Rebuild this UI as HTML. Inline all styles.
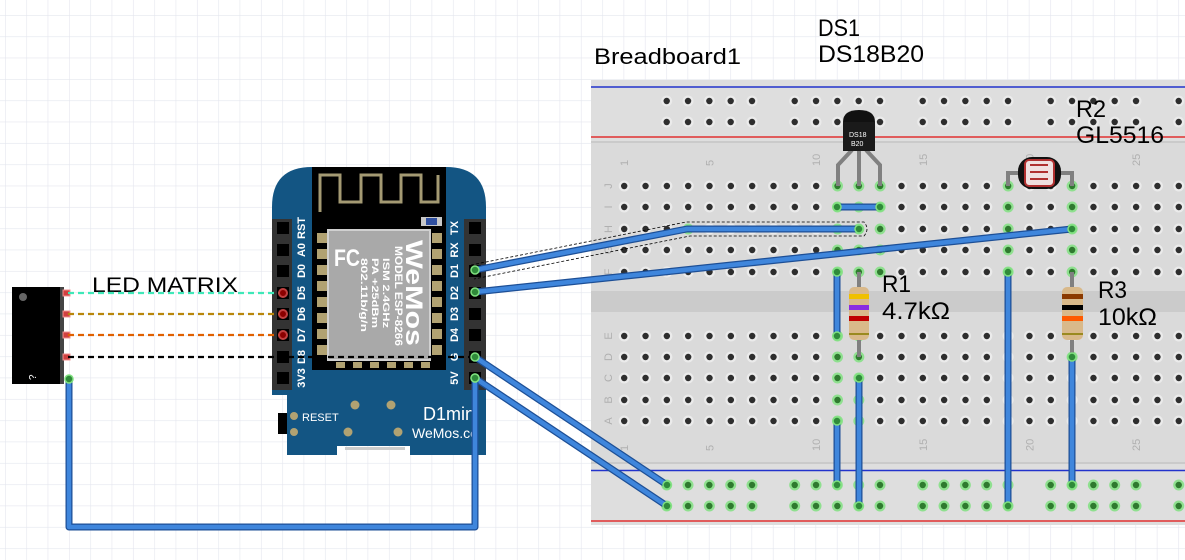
<!DOCTYPE html>
<html><head><meta charset="utf-8"><style>
html,body{margin:0;padding:0;background:#fff}
svg{display:block}
text{font-family:"Liberation Sans",sans-serif}
</style></head><body>
<svg id="s" width="1185" height="560" viewBox="0 0 1185 560" xmlns="http://www.w3.org/2000/svg">
<defs>
<pattern id="grid" x="5" y="15" width="21.33" height="21.33" patternUnits="userSpaceOnUse">
<path d="M0 0H21.33M0 0V21.33" stroke="#e4e6ee" stroke-width="1.2" fill="none"/>
</pattern>
</defs>
<rect width="1185" height="560" fill="#fff"/>
<rect width="1185" height="560" fill="url(#grid)"/>

<!-- breadboard -->
<rect x="591" y="80" width="594" height="445" fill="#dadada"/>
<rect x="591" y="80" width="594" height="62" fill="#dedede"/>
<rect x="591" y="463" width="594" height="62" fill="#dedede"/>
<line x1="591" y1="87" x2="1185" y2="87" stroke="#2233cc" stroke-width="1.5"/>
<line x1="591" y1="137" x2="1185" y2="137" stroke="#e03030" stroke-width="1.5"/>
<line x1="591" y1="142" x2="1185" y2="142" stroke="#c4c4c4" stroke-width="1.5"/>
<line x1="591" y1="463" x2="1185" y2="463" stroke="#c4c4c4" stroke-width="1.5"/>
<line x1="591" y1="470.5" x2="1185" y2="470.5" stroke="#2233cc" stroke-width="1.5"/>
<line x1="591" y1="521" x2="1185" y2="521" stroke="#e03030" stroke-width="1.5"/>
<rect x="591" y="291" width="594" height="21" fill="#cbcbcb"/>
<g id="holes"></g>
<g id="lbl" fill="#b0b0b0" font-size="11"></g>

<!-- Wemos board -->
<path d="M272 207 Q272 167 312 167 H446 Q486 167 486 207 V455 H410 V446 H337 V455 H287 V395 H272 Z" fill="#135583"/>
<rect x="312" y="167" width="134" height="203" fill="#000"/>
<path d="M320 212 V175 H340 V202 H361 V175 H381 V202 H401 V175 H421 V202 H438 V175" fill="none" stroke="#a49a73" stroke-width="3"/>
<rect x="421" y="217" width="21" height="9" fill="#c8c8c8"/><rect x="426" y="218" width="11" height="7" fill="#2f4fa0"/>
<rect x="328" y="230" width="102" height="130" fill="#a9a9a9" stroke="#d0d0d0" stroke-width="2"/>
<g fill="#fff" font-weight="bold">
<text x="334" y="266" font-size="24" textLength="26" lengthAdjust="spacingAndGlyphs">FC</text>
<text transform="translate(395,246) rotate(90)" font-size="11" textLength="100" lengthAdjust="spacingAndGlyphs">MODEL ESP-8266</text>
<text transform="translate(383,258) rotate(90)" font-size="9" textLength="70" lengthAdjust="spacingAndGlyphs">ISM 2.4GHz</text>
<text transform="translate(372,258) rotate(90)" font-size="9" textLength="70" lengthAdjust="spacingAndGlyphs">PA +25dBm</text>
<text transform="translate(361,258) rotate(90)" font-size="9" textLength="74" lengthAdjust="spacingAndGlyphs">802.11b/g/n</text>
<text transform="translate(406,240) rotate(90)" font-size="24" textLength="106" lengthAdjust="spacingAndGlyphs">WeMos</text>
</g>
<g id="pads"></g>
<rect x="272" y="219" width="20" height="171" fill="#333"/>
<rect x="464" y="219" width="22" height="171" fill="#333"/>
<g id="wpins"></g>
<g fill="#fff" font-size="11" font-weight="bold" id="wl"></g>
<rect x="278" y="413" width="9" height="21" fill="#000"/>
<circle cx="294" cy="416" r="4" fill="#b1a272"/><circle cx="294" cy="432" r="4" fill="#b1a272"/>
<circle cx="355" cy="405" r="4.5" fill="#b1a272"/><circle cx="391" cy="405" r="4.5" fill="#b1a272"/>
<circle cx="348" cy="432" r="4.5" fill="#b1a272"/><circle cx="398" cy="432" r="4.5" fill="#b1a272"/>
<text x="302" y="421" fill="#fff" font-size="11">RESET</text>
<text x="423" y="420" fill="#fff" font-size="18">D1mini</text>
<text x="412" y="438" fill="#fff" font-size="14">WeMos.cc</text>
<rect x="345" y="447" width="60" height="3" fill="#ccc"/>

<!-- LED matrix -->
<rect x="12" y="287" width="50" height="97" fill="#000"/>
<rect x="60" y="287" width="4" height="97" fill="#444"/>
<circle cx="23" cy="297" r="4" fill="#666"/>
<text x="28" y="380" fill="#fff" font-size="10" transform="rotate(-90 32 376)">?</text>
<g fill="#d04040" stroke="#f09090"><rect x="63" y="290" width="7" height="6"/><rect x="63" y="311" width="7" height="6"/><rect x="63" y="332" width="7" height="6"/><rect x="63" y="354" width="7" height="6"/></g>
<text x="92" y="292" font-size="21" textLength="146" lengthAdjust="spacingAndGlyphs">LED MATRIX</text>
<g stroke-width="2.2" stroke-dasharray="6,4" fill="none">
<line x1="68" y1="293" x2="283" y2="293" stroke="#3ee8b8"/>
<line x1="68" y1="314" x2="283" y2="314" stroke="#b8860b"/>
<line x1="68" y1="335" x2="283" y2="335" stroke="#e06000"/>
<line x1="68" y1="357" x2="475" y2="357" stroke="#000"/>
</g>
<g fill="#8b0000" stroke="#c04040" stroke-width="2"><circle cx="283" cy="293" r="4"/><circle cx="283" cy="314" r="4"/><circle cx="283" cy="335" r="4"/></g>

<!-- components -->
<g stroke="#808080" stroke-width="4" fill="none">
<path d="M852 150 L838 165 V186"/><path d="M859 150 V186"/><path d="M866 150 L880 165 V186"/>
<path d="M1018 173 H1008 V186"/><path d="M1060 173 H1072 V186"/>
<path d="M859 272 V357"/><path d="M1072 272 V357"/>
</g>
<path d="M843 151 V122 Q843 110 859 110 Q875 110 875 122 V151 Z" fill="#111"/>
<rect x="843" y="122" width="32" height="29" fill="#1a1a1a"/>
<text x="849" y="137" fill="#fff" font-size="7">DS18</text><text x="851" y="146" fill="#fff" font-size="7">B20</text>
<rect x="1018" y="157" width="43" height="32" rx="14" fill="#111"/>
<rect x="1025" y="160" width="29" height="26" rx="4" fill="#f0e0e0" stroke="#b03030" stroke-width="2"/>
<path d="M1030 165 H1048 M1030 172 H1048 M1030 179 H1048" stroke="#b03030" stroke-width="2"/>
<g>
<rect x="849" y="287" width="20" height="53" rx="5" fill="#d9b98a"/>
<rect x="849" y="294" width="20" height="5" fill="#f0c000"/><rect x="849" y="305" width="20" height="5" fill="#8a2be2"/><rect x="849" y="316" width="20" height="5" fill="#c00000"/><rect x="849" y="333" width="20" height="2" fill="#9a8a20"/>
<rect x="1062" y="287" width="21" height="53" rx="5" fill="#d9b98a"/>
<rect x="1062" y="294" width="21" height="5" fill="#8b3a00"/><rect x="1062" y="305" width="21" height="5" fill="#000"/><rect x="1062" y="316" width="21" height="5" fill="#ff5a00"/><rect x="1062" y="333" width="21" height="2" fill="#9a8a20"/>
</g>

<!-- wires -->
<path d="M471 265 L686 222 H864 Q870 229 864 236 H690 L474 279" fill="none" stroke="#000" stroke-dasharray="3,2" stroke-width="0.8"/>
<g id="wires" stroke-linecap="round" fill="none"></g>

<!-- labels -->
<g font-size="24">
<text x="594" y="64" textLength="147" lengthAdjust="spacingAndGlyphs" font-size="22">Breadboard1</text>
<text x="818" y="36" textLength="42" lengthAdjust="spacingAndGlyphs">DS1</text>
<text x="818" y="62" textLength="106" lengthAdjust="spacingAndGlyphs">DS18B20</text>
<text x="1076" y="117" textLength="30" lengthAdjust="spacingAndGlyphs">R2</text>
<text x="1076" y="143" textLength="88" lengthAdjust="spacingAndGlyphs">GL5516</text>
<text x="882" y="292" textLength="29" lengthAdjust="spacingAndGlyphs">R1</text>
<text x="882" y="319" textLength="68" lengthAdjust="spacingAndGlyphs">4.7kΩ</text>
<text x="1098" y="298" textLength="29" lengthAdjust="spacingAndGlyphs">R3</text>
<text x="1098" y="325" textLength="59" lengthAdjust="spacingAndGlyphs">10kΩ</text>
</g>
</svg>
<script>
var NS="http://www.w3.org/2000/svg";
function el(p,t,a){var e=document.createElementNS(NS,t);for(var k in a)e.setAttribute(k,a[k]);p.appendChild(e);return e;}
var H=document.getElementById("holes");
var greens={};
function g(c,r){greens[c+"_"+r]=1;}
[11,12,13].forEach(function(c){["J","I","H","G","F"].forEach(function(r){g(c,r)})});
[19,22].forEach(function(c){["J","I","H","G","F"].forEach(function(r){g(c,r)})});
[11,12].forEach(function(c){["E","D","C","B","A"].forEach(function(r){g(c,r)})});
g(22,"D");
g(4,"H");
var rows={J:186,I:207,H:229,G:250,F:272,E:336,D:357,C:378,B:400,A:421};
function hole(x,y,gr){
 el(H,"circle",{cx:x,cy:y,r:5.5,fill:gr?"#8fe08f":"#ebebeb"});
 el(H,"circle",{cx:x,cy:y,r:3.2,fill:gr?"#2f7a2f":"#2e2e2e"});
}
for(var c=1;c<=27;c++){var x=624.2+(c-1)*21.33;
 for(var r in rows) hole(x,rows[r],greens[c+"_"+r]);}
for(var gi=0;gi<5;gi++)for(var i=0;i<5;i++){var x=666.7+gi*128+i*21.33; if(x>1190)continue;
 hole(x,101,false);hole(x,122,false);hole(x,485,true);hole(x,506,true);}
var L=document.getElementById("lbl");
[1,5,10,15,20,25].forEach(function(n){var x=624.2+(n-1)*21.33+4;
 [166,451].forEach(function(y){var t=el(L,"text",{x:x,y:y,transform:"rotate(-90 "+x+" "+y+")"});t.textContent=n;});});
for(var r in rows){var t=el(L,"text",{x:608,y:rows[r]+4,transform:"rotate(-90 608 "+rows[r]+")","text-anchor":"middle"});t.textContent=r;}
var P=document.getElementById("wpins"),ys=[228,250,271,293,314,335,357,378];
ys.forEach(function(y){el(P,"rect",{x:277,y:y-6,width:12,height:12,fill:"#000"});el(P,"rect",{x:469,y:y-6,width:12,height:12,fill:"#000"});});
var PD=document.getElementById("pads");
for(var i=0;i<8;i++){var y=238+i*16;el(PD,"rect",{x:317,y:y-5,width:10,height:10,fill:"#b1a272"});el(PD,"rect",{x:432,y:y-5,width:10,height:10,fill:"#b1a272"});}
for(var i=0;i<6;i++)el(PD,"rect",{x:336+i*17,y:362,width:9,height:6,fill:"#b1a272"});
var WL=document.getElementById("wl"),ln=["RST","A0","D0","D5","D6","D7","D8","3V3"],rn=["TX","RX","D1","D2","D3","D4","G","5V"];
ys.forEach(function(y,i){var t=el(WL,"text",{x:302,y:y,transform:"rotate(-90 302 "+y+")","text-anchor":"middle","dominant-baseline":"central"});t.textContent=ln[i];
 var t2=el(WL,"text",{x:455,y:y,transform:"rotate(-90 455 "+y+")","text-anchor":"middle","dominant-baseline":"central"});t2.textContent=rn[i];});
var W=document.getElementById("wires");
var ws=[[[475,270],[687,229],[859,229]],[[475,292],[1072,229]],[[837,207],[880,207]],[[837,272],[837,336]],[[837,421],[837,485]],[[859,378],[859,506]],[[1008,272],[1008,506]],[[1072,357],[1072,485]],[[475,357],[667,485]],[[475,378],[667,506]],[[69,379],[69,527],[475,527],[475,378]]];
ws.forEach(function(w){var d="M"+w.map(function(p){return p.join(" ")}).join(" L");
 el(W,"path",{d:d,stroke:"#1d4f96",'stroke-width':7,'stroke-linejoin':'round'});
 el(W,"path",{d:d,stroke:"#3f86dc",'stroke-width':4.5,'stroke-linejoin':'round'});});
ws.forEach(function(w){[w[0],w[w.length-1]].forEach(function(p){el(W,"circle",{cx:p[0],cy:p[1],r:4,fill:"#2f8a3a",stroke:"#7fe07f",'stroke-width':1.5});});});
</script>
</body></html>
